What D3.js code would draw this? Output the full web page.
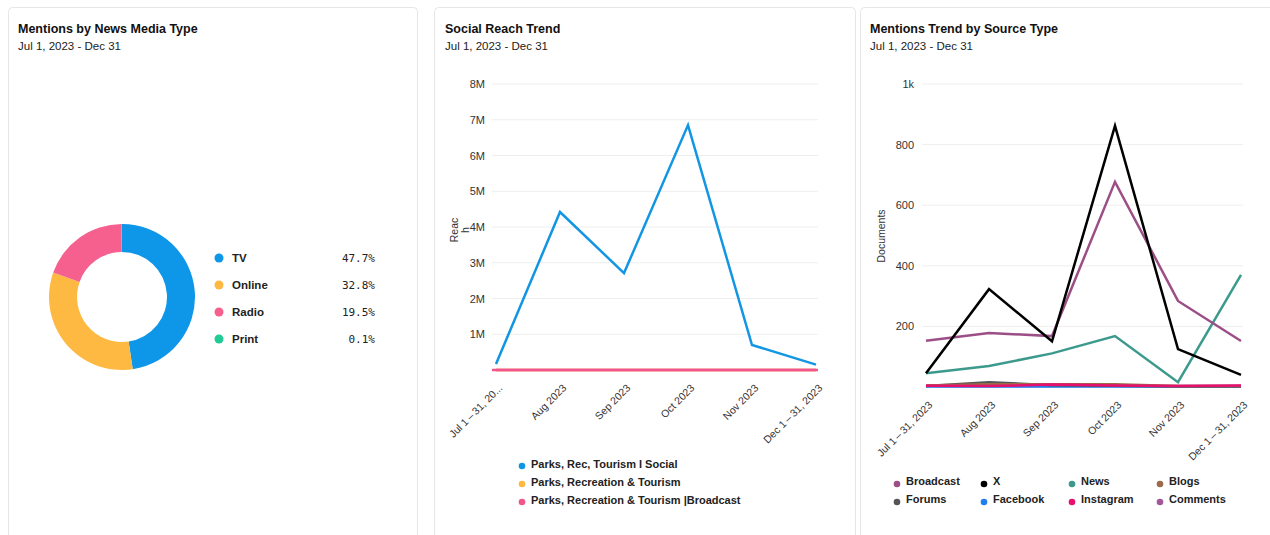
<!DOCTYPE html>
<html><head><meta charset="utf-8">
<script src="https://cdn.jsdelivr.net/npm/d3@7"></script>
<style>
body{margin:0;background:#fff;font-family:"Liberation Sans",Arial,sans-serif;}
svg{display:block}
</style></head><body>
<svg id="c" width="1270" height="535"></svg>
<script>
// ---------- data ----------
const mediaTypes = ["TV","Online","Radio","Print"];
const mediaShares = [47.7, 32.8, 19.5, 0.1];
const mediaColors = ["#0E96E8","#FDB942","#F5608F","#22CB96"];

const months = ["Jul 1\u2009–\u200931, 2023","Aug 2023","Sep 2023","Oct 2023","Nov 2023","Dec 1\u2009–\u200931, 2023"];
const monthLabels2 = ["Jul 1\u2009–\u200931, 20...","Aug 2023","Sep 2023","Oct 2023","Nov 2023","Dec 1\u2009–\u200931, 2023"];
const reachSeries = ["Parks, Rec, Tourism I Social","Parks, Recreation & Tourism","Parks, Recreation & Tourism |Broadcast"];
const reachColors = ["#1296E4","#FDB942","#F0558C"];
const reachSocial = [170000, 4420000, 2710000, 6850000, 700000, 150000];
const reachRec = [0,0,0,0,0,0];
const reachBroadcast = [0,0,0,0,0,0];
const reachTicks = [1e6,2e6,3e6,4e6,5e6,6e6,7e6,8e6];

const srcSeries = ["Broadcast","X","News","Blogs","Forums","Facebook","Instagram","Comments"];
const srcColors = ["#9C4F86","#000000","#3C9A8C","#9A6A4A","#555555","#1E7FF0","#E8106E","#A0589A"];
const srcBroadcast = [153, 178, 168, 677, 284, 152];
const srcX = [45, 323, 151, 862, 125, 40];
const srcNews = [45, 69, 111, 168, 16, 370];
const srcBlogs = [5, 9, 9, 9, 3, 3];
const srcForums = [3, 16, 6, 4, 2, 2];
const srcFacebook = [2, 2, 2, 2, 2, 2];
const srcInstagram = [4, 3, 8, 5, 3, 5];
const srcComments = [3, 3, 3, 3, 3, 3];
const srcTicks = [200,400,600,800,1000];

// ---------- layout ----------
const svg = d3.select("#c");
const panels = [[8,7,409],[434,7,421],[860,7,430]];
panels.forEach(([x,y,w])=>{
  svg.append("rect").attr("x",x+0.5).attr("y",y+0.5).attr("width",w).attr("height",560)
    .attr("rx",4).attr("fill","#fff").attr("stroke","#e6e6e6");
});
const titles = [["Mentions by News Media Type",18],["Social Reach Trend",445],["Mentions Trend by Source Type",870]];
titles.forEach(([t,x])=>{
  svg.append("text").attr("x",x).attr("y",33).attr("font-size",12.5).attr("font-weight","bold").attr("fill","#111").text(t);
  svg.append("text").attr("x",x).attr("y",50).attr("font-size",11.5).attr("fill","#222").text("Jul 1, 2023 - Dec 31");
});

// ---------- donut ----------
const pie = d3.pie().sort(null).value(d=>d)(mediaShares);
const arc = d3.arc().innerRadius(45).outerRadius(73);
const g1 = svg.append("g").attr("transform","translate(122,297)");
g1.selectAll("path").data(pie).join("path").attr("d",arc).attr("fill",(d,i)=>mediaColors[i]);
const lg1 = svg.append("g");
mediaTypes.forEach((m,i)=>{
  const y = 258 + i*27;
  lg1.append("circle").attr("cx",219).attr("cy",y).attr("r",4.5).attr("fill",mediaColors[i]);
  lg1.append("text").attr("x",232).attr("y",y+4).attr("font-size",11.5).attr("font-weight","bold").attr("fill","#222").text(m);
  lg1.append("text").attr("x",375).attr("y",y+4).attr("text-anchor","end").attr("font-size",11)
    .attr("font-family","'DejaVu Sans Mono',monospace").attr("fill","#222").text(mediaShares[i].toFixed(1)+"%");
});

// ---------- line chart helper ----------
function lineChart(opt){
  const g = svg.append("g");
  const x = d3.scalePoint().domain(d3.range(months.length)).range(opt.xr);
  const y = d3.scaleLinear().domain([0,opt.max]).range(opt.yr);
  g.selectAll("line.grid").data(opt.ticks).join("line")
    .attr("x1",opt.gx[0]).attr("x2",opt.gx[1]).attr("y1",d=>y(d)).attr("y2",d=>y(d))
    .attr("stroke","#eeeeee").attr("stroke-width",1);
  const ya = g.append("g").attr("transform",`translate(${opt.yLabelX},0)`)
    .call(d3.axisLeft(y).tickValues(opt.ticks).tickFormat(opt.fmt).tickSize(0).tickPadding(0));
  ya.select(".domain").remove();
  ya.selectAll("text").attr("font-size",11).attr("fill","#333").attr("font-family","'Liberation Sans',Arial,sans-serif");
  const xa = g.append("g").attr("transform",`translate(0,${opt.xLabelY})`)
    .call(d3.axisBottom(x).tickFormat(i=>opt.labels[i]).tickSize(0).tickPadding(0));
  xa.select(".domain").remove();
  xa.selectAll("text").attr("font-size",10.5).attr("fill","#333").attr("font-family","'Liberation Sans',Arial,sans-serif")
    .attr("text-anchor","end").attr("dy","0.35em").attr("transform","translate(4,0) rotate(-45)");
  const line = d3.line().x((d,i)=>x(i)).y(d=>y(d));
  opt.series.forEach((s,k)=>{
    g.append("path").datum(s).attr("d",line).attr("fill","none")
      .attr("stroke",opt.colors[k]).attr("stroke-width",opt.sw).attr("stroke-linejoin","miter");
  });
  return g;
}

// ---------- social reach ----------
lineChart({xr:[496,816], yr:[370,84], max:8e6, gx:[492,818], ticks:reachTicks,
  fmt:d=>(d/1e6)+"M", yLabelX:485, xLabelY:386, labels:monthLabels2,
  series:[reachSocial, reachRec, reachBroadcast], colors:reachColors, sw:2.5});
svg.append("line").attr("x1",492).attr("x2",818).attr("y1",370).attr("y2",370).attr("stroke","#F0558C").attr("stroke-width",2.5);
const yt2 = svg.append("text").attr("transform","translate(458,230) rotate(-90)").attr("font-size",10.5).attr("fill","#333").attr("text-anchor","middle");
yt2.append("tspan").attr("x",0).attr("dy",0).text("Reac");
yt2.append("tspan").attr("x",0).attr("dy","1.05em").text("h");
reachSeries.forEach((s,i)=>{
  const y = 466 + i*18;
  svg.append("circle").attr("cx",522).attr("cy",y).attr("r",3.3).attr("fill",reachColors[i]);
  svg.append("text").attr("x",531).attr("y",y+2).attr("font-size",11).attr("font-weight","bold").attr("fill","#222").text(s);
});

// ---------- source type ----------
lineChart({xr:[926,1241], yr:[387,84], max:1000, gx:[922,1243], ticks:srcTicks,
  fmt:d=>d===1000?"1k":d, yLabelX:914, xLabelY:403, labels:months,
  series:[srcComments, srcFacebook, srcForums, srcBlogs, srcInstagram, srcNews, srcBroadcast, srcX],
  colors:[srcColors[7],srcColors[5],srcColors[4],srcColors[3],srcColors[6],srcColors[2],srcColors[0],srcColors[1]], sw:2.5});
svg.append("text").attr("transform","translate(885,236) rotate(-90)").attr("font-size",10.5).attr("fill","#333").attr("text-anchor","middle").text("Documents");
const colX = [897,984,1072,1160];
srcSeries.forEach((s,i)=>{
  const cx = colX[i%4], y = 484 + Math.floor(i/4)*18;
  svg.append("circle").attr("cx",cx).attr("cy",y).attr("r",3.3).attr("fill",srcColors[i]);
  svg.append("text").attr("x",cx+9).attr("y",y+1).attr("font-size",11).attr("font-weight","bold").attr("fill","#222").text(s);
});
</script>
</body></html>
